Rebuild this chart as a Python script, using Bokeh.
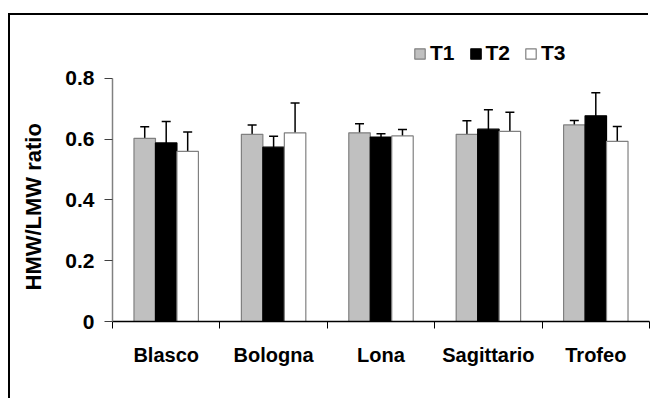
from bokeh.plotting import figure
from bokeh.models import (Range1d, FixedTicker, Whisker, ColumnDataSource, Legend, LegendItem,
                          TeeHead, Title)
from bokeh.embed import file_html
from bokeh.resources import INLINE

categories = ["Blasco", "Bologna", "Lona", "Sagittario", "Trofeo"]
series = ["T1", "T2", "T3"]
t1 = [0.603, 0.616, 0.621, 0.616, 0.647]
t2 = [0.588, 0.574, 0.607, 0.633, 0.677]
t3 = [0.560, 0.621, 0.611, 0.626, 0.593]
t1_err = [0.038, 0.031, 0.030, 0.045, 0.015]
t2_err = [0.070, 0.036, 0.011, 0.064, 0.076]
t3_err = [0.064, 0.098, 0.021, 0.063, 0.049]
y_ticks = [0, 0.2, 0.4, 0.6, 0.8]
y_tick_labels = ["0", "0.2", "0.4", "0.6", "0.8"]
y_title = "HMW/LMW ratio"

FONT = "Liberation Sans"

p = figure(width=654, height=398, output_backend="svg", toolbar_location=None,
           x_range=Range1d(0, len(categories)), y_range=Range1d(0, 0.925),
           min_border_left=112, min_border_right=5, min_border_top=40, min_border_bottom=77)
p.grid.visible = False
p.outline_line_color = None
p.background_fill_color = "white"
p.border_fill_color = None
p.styles = {"box-shadow": "inset -6px 0 0 0 white, inset 0 13px 0 0 white, inset 8px 0 0 0 white, "
                          "inset 0 15px 0 0 black, inset 10px 0 0 0 black",
            "overflow": "hidden"}

fills = ["#c0c0c0", "#000000", "#ffffff"]
lines = ["#808080", "#000000", "#808080"]
offsets = [-0.2, 0.0, 0.2]
vals = [t1, t2, t3]
errs = [t1_err, t2_err, t3_err]
renderers = []
for k in range(3):
    xs = [i + 0.5 + offsets[k] for i in range(len(categories))]
    src = ColumnDataSource(dict(x=xs, top=vals[k],
                                upper=[v + e for v, e in zip(vals[k], errs[k])],
                                lower=[v - e for v, e in zip(vals[k], errs[k])]))
    r = p.vbar(x="x", top="top", bottom=0, width=0.2, source=src,
               fill_color=fills[k], line_color=lines[k], line_width=1.2)
    renderers.append(r)
    w = Whisker(base="x", upper="upper", lower="lower", source=src,
                line_color="black", line_width=1.5,
                upper_head=TeeHead(size=9, line_color="black", line_width=1.5),
                lower_head=TeeHead(size=9, line_color="black", line_width=1.5))
    p.add_layout(w)

# x axis
xa = p.xaxis[0]
xa.ticker = FixedTicker(ticks=[i + 0.5 for i in range(len(categories))],
                        minor_ticks=list(range(len(categories) + 1)))
xa.major_label_overrides = {i + 0.5: c for i, c in enumerate(categories)}
xa.major_tick_line_color = None
xa.major_tick_out = 0
xa.major_tick_in = 0
xa.minor_tick_out = 7
xa.minor_tick_in = 0
xa.minor_tick_line_color = "black"
xa.axis_line_color = "black"
xa.axis_line_width = 1.5
xa.major_label_text_font = FONT
xa.major_label_text_font_style = "bold"
xa.major_label_text_font_size = "20px"
xa.major_label_text_color = "black"
xa.major_label_standoff = 15

# y axis
ya = p.yaxis[0]
ya.ticker = FixedTicker(ticks=y_ticks, minor_ticks=[])
ya.bounds = (0, 0.8)
ya.major_label_overrides = {t: l for t, l in zip(y_ticks, y_tick_labels)}
ya.major_tick_out = 8
ya.major_tick_in = 0
ya.major_tick_line_color = "#404040"
ya.axis_line_color = "#808080"
ya.axis_line_width = 1.5
ya.major_label_text_font = FONT
ya.major_label_text_font_style = "bold"
ya.major_label_text_font_size = "21px"
ya.major_label_text_color = "black"
ya.major_label_standoff = 10

# y axis title, placed in the left panel so it can sit on the 0-0.8 span
p.add_layout(Title(text=y_title, align="left", offset=31, standoff=34,
                   text_font=FONT, text_font_style="bold", text_font_size="22px",
                   text_color="black"), "left")

legend = Legend(items=[LegendItem(label=s, renderers=[r]) for s, r in zip(series, renderers)],
                orientation="horizontal", location=(301, 256),
                glyph_width=13, glyph_height=13, label_standoff=4, spacing=14,
                padding=0, margin=0, border_line_color=None, background_fill_alpha=0,
                label_text_font=FONT, label_text_font_style="bold", label_text_font_size="21px",
                label_text_color="black", label_height=13)
p.add_layout(legend)

open("out.html", "w").write(file_html(p, INLINE))
